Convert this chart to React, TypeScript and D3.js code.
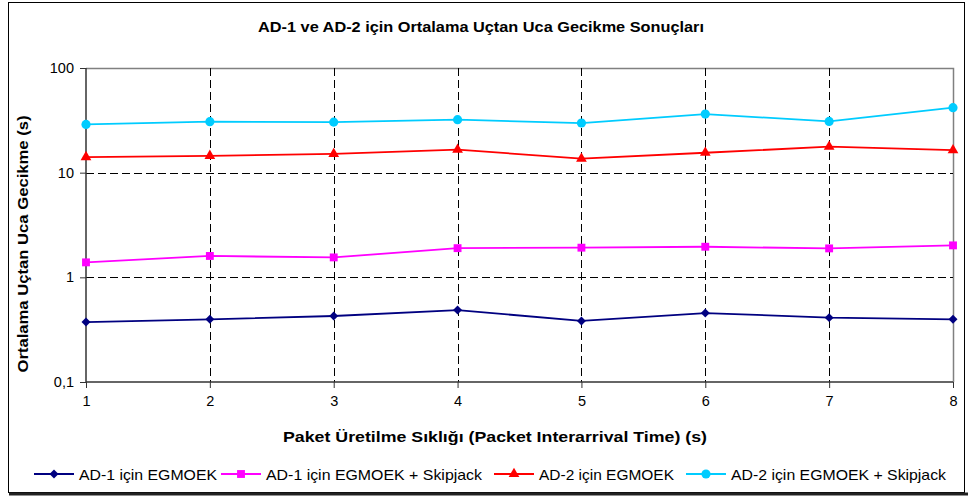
import * as d3 from 'd3';
import React, { useEffect, useRef } from 'react';

// values (log scale, seconds)
const xTicks = [1, 2, 3, 4, 5, 6, 7, 8];
const yTicks = [0.1, 1, 10, 100];
const yTickLabels = ['0,1', '1', '10', '100'];

const seriesNames = [
    'AD-1 için EGMOEK',
    'AD-1 için EGMOEK + Skipjack',
    'AD-2 için EGMOEK',
    'AD-2 için EGMOEK + Skipjack',
];
const ad1Egmoek = [0.374, 0.397, 0.427, 0.487, 0.383, 0.456, 0.412, 0.397];
const ad1Skipjack = [1.39, 1.6, 1.55, 1.9, 1.92, 1.96, 1.89, 2.02];
const ad2Egmoek = [14.1, 14.5, 15.1, 16.6, 13.6, 15.5, 17.7, 16.4];
const ad2Skipjack = [28.9, 30.7, 30.4, 32.1, 29.8, 36.3, 30.9, 41.8];

const title = 'AD-1 ve AD-2 için Ortalama Uçtan Uca Gecikme Sonuçları';
const xTitle = 'Paket Üretilme Sıklığı (Packet Interarrival Time) (s)';
const yTitle = 'Ortalama Uçtan Uca Gecikme (s)';

const W = 968;
const H = 497;
const FONT = '"Liberation Sans", Arial, sans-serif';

export default function App() {
    const ref = useRef<SVGSVGElement>(null);

    useEffect(() => {
        const svg = d3.select(ref.current);
        svg.selectAll('*').remove();

        const plot = { left: 86, right: 953, top: 68, bottom: 382 };

        const x = d3.scaleLinear().domain([1, 8]).range([plot.left, plot.right]);
        const y = d3.scaleLog().domain([0.1, 100]).range([plot.bottom, plot.top]);

        // chart frame with a little shadow on bottom
        svg.append('rect')
            .attr('x', 8.5).attr('y', 2.5)
            .attr('width', 956).attr('height', 490)
            .attr('fill', 'white').attr('stroke', 'black').attr('stroke-width', 1);
        svg.append('line')
            .attr('x1', 9).attr('x2', 968).attr('y1', 494).attr('y2', 494)
            .attr('stroke', '#222').attr('stroke-width', 3);

        // plot area border (top/right grey)
        svg.append('path')
            .attr('d', `M${plot.left},${plot.top + 0.5}H${plot.right + 0.5}V${plot.bottom}`)
            .attr('fill', 'none').attr('stroke', '#808080').attr('stroke-width', 1.5);

        // grid lines
        const grid = svg.append('g').attr('stroke', 'black').attr('stroke-width', 1)
            .attr('stroke-dasharray', '8,4');
        grid.selectAll('.hg')
            .data([1, 10])
            .enter().append('line')
            .attr('x1', plot.left).attr('x2', plot.right)
            .attr('y1', d => Math.round(y(d)) + 0.5).attr('y2', d => Math.round(y(d)) + 0.5);
        grid.selectAll('.vg')
            .data(xTicks.slice(1, -1))
            .enter().append('line')
            .attr('y1', plot.top).attr('y2', plot.bottom)
            .attr('x1', d => Math.round(x(d)) + 0.5).attr('x2', d => Math.round(x(d)) + 0.5);

        // axes
        const yAxis = d3.axisLeft(y)
            .tickValues(yTicks)
            .tickFormat((d, i) => yTickLabels[i])
            .tickSize(6).tickPadding(6);
        const gy = svg.append('g').attr('transform', `translate(${plot.left},0)`).call(yAxis);

        const xAxis = d3.axisBottom(x)
            .tickValues(xTicks)
            .tickFormat(d3.format('d'))
            .tickSize(6).tickPadding(8);
        const gx = svg.append('g').attr('transform', `translate(0,${plot.bottom})`).call(xAxis);

        [gx, gy].forEach(g => {
            g.select('.domain').attr('stroke', '#333').attr('stroke-width', 1.5);
            g.selectAll('.tick line').attr('stroke', '#333');
            g.selectAll('.tick text')
                .attr('font-family', FONT).attr('font-size', 14.5).attr('fill', 'black');
        });
        gy.select('.domain').attr('d', `M0,${plot.top}V${plot.bottom}`);
        gx.select('.domain').attr('d', `M${plot.left},0H${plot.right}`);

        // series
        const series = [
            { name: seriesNames[0], values: ad1Egmoek, color: '#000080', symbol: 'diamond' },
            { name: seriesNames[1], values: ad1Skipjack, color: '#FF00FF', symbol: 'square' },
            { name: seriesNames[2], values: ad2Egmoek, color: '#FF0000', symbol: 'triangle' },
            { name: seriesNames[3], values: ad2Skipjack, color: '#00CCFF', symbol: 'circle' },
        ];

        const markerPath = (kind: string) => {
            if (kind === 'diamond') return d3.symbol().type(d3.symbolSquare).size(40)();
            if (kind === 'square') return d3.symbol().type(d3.symbolSquare).size(62)();
            if (kind === 'triangle') return d3.symbol().type(d3.symbolTriangle).size(50)();
            return d3.symbol().type(d3.symbolCircle).size(66)();
        };
        const markerRot = (kind: string) => (kind === 'diamond' ? ' rotate(45)' : '');

        const line = d3.line<number>()
            .x((d, i) => x(xTicks[i]))
            .y(d => y(d));

        series.forEach(s => {
            const g = svg.append('g');
            g.append('path')
                .attr('d', line(s.values))
                .attr('fill', 'none').attr('stroke', s.color).attr('stroke-width', 1.8);
            g.selectAll('path.m')
                .data(s.values)
                .enter().append('path')
                .attr('class', 'm')
                .attr('d', markerPath(s.symbol))
                .attr('transform', (d, i) => `translate(${x(xTicks[i])},${y(d)})${markerRot(s.symbol)}`)
                .attr('fill', s.color);
        });

        // titles (Excel renders these a bit condensed)
        svg.append('text')
            .attr('x', 481).attr('y', 32)
            .attr('text-anchor', 'middle')
            .attr('font-family', FONT).attr('font-size', 15).attr('font-weight', 'bold')
            .attr('textLength', 446).attr('lengthAdjust', 'spacingAndGlyphs')
            .text(title);
        svg.append('text')
            .attr('x', 495).attr('y', 442)
            .attr('text-anchor', 'middle')
            .attr('font-family', FONT).attr('font-size', 15.5).attr('font-weight', 'bold')
            .attr('textLength', 424).attr('lengthAdjust', 'spacingAndGlyphs')
            .text(xTitle);
        svg.append('text')
            .attr('transform', `translate(28,244) rotate(-90)`)
            .attr('text-anchor', 'middle')
            .attr('font-family', FONT).attr('font-size', 15.5).attr('font-weight', 'bold')
            .attr('textLength', 257).attr('lengthAdjust', 'spacingAndGlyphs')
            .text(yTitle);

        // legend
        const legendX = [34, 221, 494, 686];
        const legendW = [138, 216, 135, 215];
        const ly = 474;
        series.forEach((s, i) => {
            const g = svg.append('g').attr('transform', `translate(${legendX[i]},${ly})`);
            g.append('line')
                .attr('x1', 0).attr('x2', 40).attr('y1', 0).attr('y2', 0)
                .attr('stroke', s.color).attr('stroke-width', 1.8);
            g.append('path')
                .attr('d', markerPath(s.symbol))
                .attr('transform', `translate(20,0)${markerRot(s.symbol)}`)
                .attr('fill', s.color);
            g.append('text')
                .attr('x', 45).attr('y', 5.5)
                .attr('font-family', FONT).attr('font-size', 15)
                .attr('textLength', legendW[i]).attr('lengthAdjust', 'spacingAndGlyphs')
                .text(s.name);
        });
    }, []);

    return (
        <div style={{ position: 'fixed', left: 0, top: 0 }}>
            <svg ref={ref} width={W} height={H} style={{ display: 'block', background: 'white' }} />
        </div>
    );
}
